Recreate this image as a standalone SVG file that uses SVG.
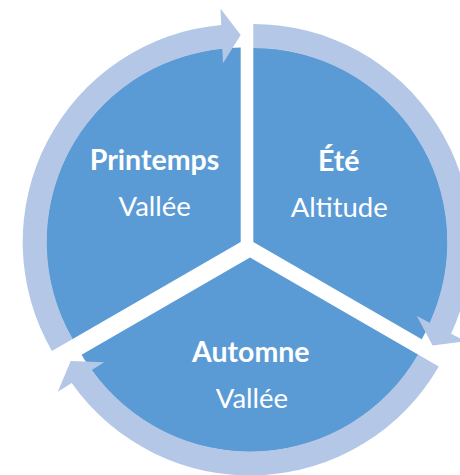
<svg xmlns="http://www.w3.org/2000/svg" width="460" height="475" viewBox="0 0 460 475">
  <style>
    .sector { fill: #5B9BD5; }
    .arrow { fill: #B4C7E7; }
    .title { font-family: Lato, "Open Sans", sans-serif; font-weight: bold; font-size: 28.5px; fill: #FFFFFF; text-anchor: middle; }
    .sub { font-family: Lato, "Open Sans", sans-serif; font-size: 27.5px; fill: #FFFFFF; text-anchor: middle; }
  </style>
  <rect width="460" height="475" fill="#FFFFFF"/>
  <g id="printemps">
    <path class="sector" d="M240.7,242 L72.26,339.25 A194.5,194.5 0 0 1 240.7,47.5 Z"/>
  </g>
  <g id="ete">
    <path class="sector" d="M253.3,242 L253.3,47.5 A194.5,194.5 0 0 1 421.74,339.25 Z"/>
  </g>
  <g id="automne">
    <path class="sector" d="M250,257.5 L418.44,354.75 A194.5,194.5 0 0 1 81.56,354.75 Z"/>
  </g>
  <g id="connectors">
    <path class="arrow" d="M51.91,351 A218,218 0 0 1 221.22,24.88 L220.46,8.4 L240.7,35 L222.98,63.34 L222.32,48.86 A194,194 0 0 0 72.69,339 Z"/>
    <path class="arrow" d="M253.3,24 A218,218 0 0 1 451.07,333.69 L465.72,341.27 L432.57,345.5 L416.88,315.99 L429.75,322.65 A194,194 0 0 0 253.3,48 Z"/>
    <path class="arrow" d="M438.79,366.5 A218,218 0 0 1 71.71,382.93 L57.81,391.83 L70.73,361 L104.13,362.17 L91.92,369.99 A194,194 0 0 0 418.01,354.5 Z"/>
  </g>
  <g id="labels-printemps">
    <text class="title" x="154.5" y="170">Printemps</text>
    <text class="sub" x="154.7" y="216">Vallée</text>
  </g>
  <g id="labels-ete">
    <text class="title" x="338.7" y="170.7">Été</text>
    <text class="sub" x="339.2" y="217.3">Altitude</text>
  </g>
  <g id="labels-automne">
    <text class="title" x="250.8" y="361.7">Automne</text>
    <text class="sub" x="252" y="407.7">Vallée</text>
  </g>
</svg>
